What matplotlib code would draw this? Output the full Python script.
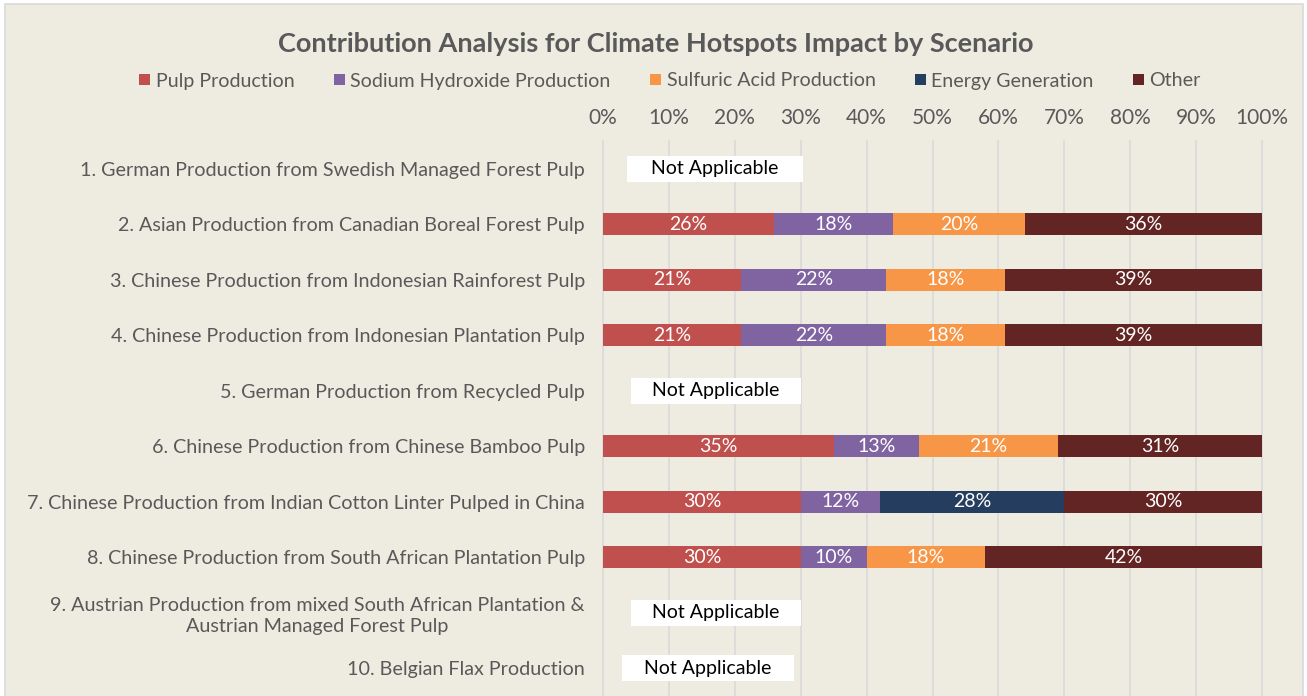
import matplotlib
matplotlib.use("Agg")
import matplotlib.pyplot as plt
from matplotlib.patches import Patch, Rectangle
from matplotlib.ticker import PercentFormatter
import numpy as np

plt.rcParams["font.family"] = ["Lato", "DejaVu Sans"]

scenarios = [
    "1. German Production from Swedish Managed Forest Pulp",
    "2. Asian Production from Canadian Boreal Forest Pulp",
    "3. Chinese Production from Indonesian Rainforest Pulp",
    "4. Chinese Production from Indonesian Plantation Pulp",
    "5. German Production from Recycled Pulp",
    "6. Chinese Production from Chinese Bamboo Pulp",
    "7. Chinese Production from Indian Cotton Linter Pulped in China",
    "8. Chinese Production from South African Plantation Pulp",
    "9. Austrian Production from mixed South African Plantation &\nAustrian Managed Forest Pulp",
    "10. Belgian Flax Production",
]
series = ["Pulp Production", "Sodium Hydroxide Production", "Sulfuric Acid Production",
          "Energy Generation", "Other"]
pulp     = [0, 26, 21, 21, 0, 35, 30, 30, 0, 0]
sodium   = [0, 18, 22, 22, 0, 13, 12, 10, 0, 0]
sulfuric = [0, 20, 18, 18, 0, 21, 0, 18, 0, 0]
energy   = [0, 0, 0, 0, 0, 0, 28, 0, 0, 0]
other    = [0, 36, 39, 39, 0, 31, 30, 42, 0, 0]
not_applicable = [True, False, False, False, True, False, False, False, True, True]

COLORS = ["#C0504D", "#8064A2", "#F79646", "#253E5F", "#632523"]
BG = "#EEECE1"
GREY = "#595959"

fig = plt.figure(figsize=(13.07, 6.96), dpi=100, facecolor="white")
fig.patches.append(Rectangle((5 / 1307, -0.01), 1298 / 1307, 1 - 4 / 696 + 0.01,
                             transform=fig.transFigure, facecolor=BG,
                             edgecolor="#D9D9D9", lw=1.2, zorder=-10))
ax = fig.add_axes([603 / 1307, 0, (1262 - 603) / 1307, 1 - 141 / 696])
ax.set_facecolor("none")

y = np.arange(len(scenarios))
left = np.zeros(len(scenarios))
for name, vals, col in zip(series, [pulp, sodium, sulfuric, energy, other], COLORS):
    v = np.array(vals, dtype=float)
    ax.barh(y, v, left=left, height=0.4, color=col, label=name, zorder=3)
    for yi, (l, w) in enumerate(zip(left, v)):
        if w > 0:
            ax.text(l + w / 2, yi, f"{w:.0f}%", ha="center", va="center",
                    color="white", fontsize=14, zorder=4)
    left += v

# "Not Applicable" boxes
na_span = {0: (3.6, 30.3), 4: (4.2, 30.0), 8: (4.2, 30.0), 9: (2.9, 29.0)}
for yi, na in enumerate(not_applicable):
    if na:
        x0, x1 = na_span[yi]
        ax.add_patch(Rectangle((x0, yi - 0.23), x1 - x0, 0.46, facecolor="white",
                               edgecolor="none", zorder=3))
        ax.text((x0 + x1) / 2, yi, "Not Applicable", ha="center", va="center",
                color="black", fontsize=14, zorder=4)

ax.set_xlim(0, 100)
ax.set_ylim(len(scenarios) - 0.5, -0.5)
ax.set_xticks(np.arange(0, 101, 10))
ax.xaxis.set_major_formatter(PercentFormatter(decimals=0))
ax.xaxis.tick_top()
ax.tick_params(axis="x", length=0, pad=9, labelsize=15, labelcolor=GREY)
ax.set_yticks(y)
ax.set_yticklabels(scenarios, fontsize=14.2, color=GREY, multialignment="center",
                   linespacing=1.3)
ax.tick_params(axis="y", length=0, pad=13)
ax.grid(axis="x", color="#D9D9D9", lw=1.2, zorder=0)
for gl in ax.get_xgridlines():
    gl.set_clip_on(False)
for s in ax.spines.values():
    s.set_visible(False)

fig.text(656 / 1307, 1 - 44 / 696, "Contribution Analysis for Climate Hotspots Impact by Scenario",
         ha="center", va="center", fontsize=19.5, fontweight="bold", color=GREY)
handles = [Patch(facecolor=c, label=s) for s, c in zip(series, COLORS)]
fig.legend(handles=handles, loc="center", bbox_to_anchor=(670 / 1307, 1 - 81 / 696), ncol=5,
           frameon=False, fontsize=14.1, labelcolor=GREY, handlelength=0.55, handleheight=0.55,
           handletextpad=0.3, columnspacing=2.0)

fig.savefig("out.png", dpi=100, facecolor="white")
